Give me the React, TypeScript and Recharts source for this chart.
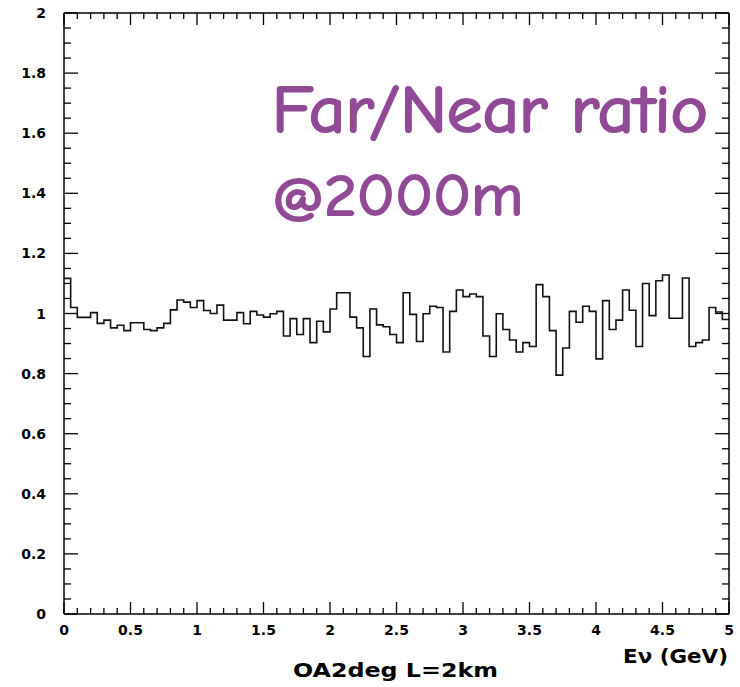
import React from 'react';
import { ComposedChart, Line, XAxis, YAxis } from 'recharts';

// Far/Near flux ratio per 50 MeV energy bin, 0 – 5 GeV (100 bins)
const ratio: number[] = [
  1.117, 1.02, 0.987, 0.987, 1.003, 0.967, 0.978, 0.952, 0.961, 0.943,
  0.969, 0.969, 0.947, 0.943, 0.952, 0.967, 1.012, 1.045, 1.038, 1.02,
  1.043, 1.01, 1.0, 1.028, 0.978, 0.978, 1.003, 0.966, 1.007, 0.995,
  0.988, 0.999, 1.007, 0.925, 0.983, 0.93, 0.983, 0.903, 0.974, 0.939,
  1.015, 1.069, 1.069, 0.988, 0.952, 0.857, 1.015, 0.962, 0.956, 0.93,
  0.903, 1.069, 0.997, 0.907, 0.999, 1.024, 1.02, 0.872, 1.007, 1.078,
  1.056, 1.065, 1.056, 0.925, 0.857, 0.999, 0.947, 0.912, 0.872, 0.903,
  0.89, 1.096, 1.056, 0.943, 0.795, 0.885, 1.007, 0.971, 1.024, 1.007,
  0.849, 1.043, 0.947, 0.978, 1.078, 1.011, 0.89, 1.1, 0.993, 1.109,
  1.128, 0.984, 0.984, 1.118, 0.89, 0.903, 0.912, 1.02, 1.005, 0.98,
];

const E_MIN = 0;
const E_MAX = 5;
const BIN_WIDTH = 0.05;

// x ticks every 0.1 GeV (labelled every 0.5), y ticks every 0.05 (labelled every 0.2)
const xTicks: number[] = Array.from({ length: 51 }, (_, i) => i / 10);
const yTicks: number[] = Array.from({ length: 41 }, (_, i) => i / 20);

// Histogram rows: low edge of each bin, plus the closing edge at E_MAX
const rows = [
  ...ratio.map((r, i) => ({ e: E_MIN + i * BIN_WIDTH, ratio: r })),
  { e: E_MAX, ratio: ratio[ratio.length - 1] },
];

const isMultiple = (v: number, step: number) =>
  Math.abs(v / step - Math.round(v / step)) < 1e-6;
const fmt = (v: number) => String(parseFloat(v.toFixed(1)));

const LABEL_FONT = "'DejaVu Sans', 'Liberation Sans', sans-serif";
const INK = '#000';

const BottomTick = (props: any) => {
  const { x, y, payload } = props;
  const major = isMultiple(payload.value, 0.5);
  return (
    <g>
      <line x1={x} x2={x} y1={y} y2={y - (major ? 12 : 6)} stroke={INK} strokeWidth={1.3} />
      {major && (
        <text x={x} y={y + 21} textAnchor="middle" fontFamily={LABEL_FONT}
          fontWeight="bold" fontSize={14} fill={INK}>
          {fmt(payload.value)}
        </text>
      )}
    </g>
  );
};

const TopTick = (props: any) => {
  const { x, y, payload } = props;
  const major = isMultiple(payload.value, 0.5);
  return <line x1={x} x2={x} y1={y} y2={y + (major ? 12 : 6)} stroke={INK} strokeWidth={1.3} />;
};

const LeftTick = (props: any) => {
  const { x, y, payload } = props;
  const major = isMultiple(payload.value, 0.2);
  return (
    <g>
      <line x1={x} x2={x + (major ? 14 : 7)} y1={y} y2={y} stroke={INK} strokeWidth={1.3} />
      {major && (
        <text x={x - 18} y={y + 5} textAnchor="end" fontFamily={LABEL_FONT}
          fontWeight="bold" fontSize={14} fill={INK}>
          {fmt(payload.value)}
        </text>
      )}
    </g>
  );
};

const RightTick = (props: any) => {
  const { x, y, payload } = props;
  const major = isMultiple(payload.value, 0.2);
  return <line x1={x} x2={x - (major ? 14 : 7)} y1={y} y2={y} stroke={INK} strokeWidth={1.3} />;
};

const axisLine = { stroke: INK, strokeWidth: 1.5 };
const PURPLE = '#914a96';
const HAND_FONT = "'Comic Sans MS', 'Comic Neue', 'Noto Sans', sans-serif";

export default function App() {
  return (
    <div style={{ position: 'absolute', left: 0, top: 0, width: 740, height: 687, background: '#fff' }}>
      <ComposedChart
        width={740}
        height={687}
        data={rows}
        margin={{ top: 12, right: 10, bottom: 0, left: 0 }}
      >
        <XAxis
          dataKey="e"
          type="number"
          domain={[E_MIN, E_MAX]}
          ticks={xTicks}
          interval={0}
          height={73}
          tickSize={0}
          tickMargin={0}
          tickLine={false}
          axisLine={axisLine}
          tick={<BottomTick />}
          allowDataOverflow
        />
        <XAxis
          xAxisId="top"
          dataKey="e"
          orientation="top"
          type="number"
          domain={[E_MIN, E_MAX]}
          ticks={xTicks}
          interval={0}
          height={1}
          tickSize={0}
          tickMargin={0}
          tickLine={false}
          axisLine={axisLine}
          tick={<TopTick />}
          allowDataOverflow
        />
        <YAxis
          type="number"
          domain={[0, 2]}
          ticks={yTicks}
          interval={0}
          width={64}
          tickSize={0}
          tickMargin={0}
          tickLine={false}
          axisLine={axisLine}
          tick={<LeftTick />}
          allowDataOverflow
        />
        <YAxis
          yAxisId="right"
          orientation="right"
          type="number"
          domain={[0, 2]}
          ticks={yTicks}
          interval={0}
          width={1}
          tickSize={0}
          tickMargin={0}
          tickLine={false}
          axisLine={axisLine}
          tick={<RightTick />}
          allowDataOverflow
        />
        {/* frame-only series so the top and right axes share the data scale */}
        <Line
          xAxisId="top"
          yAxisId="right"
          type="stepAfter"
          dataKey="ratio"
          stroke="none"
          dot={false}
          activeDot={false}
          isAnimationActive={false}
        />
        <Line
          type="stepAfter"
          dataKey="ratio"
          stroke="#111"
          strokeWidth={1.6}
          dot={false}
          activeDot={false}
          isAnimationActive={false}
        />
      </ComposedChart>
      <svg
        width={740}
        height={687}
        style={{ position: 'absolute', left: 0, top: 0, pointerEvents: 'none' }}
      >
        <text x={272} y={132} fontFamily={HAND_FONT} fontSize={66} fill={PURPLE}
          stroke={PURPLE} strokeWidth={2.2} strokeLinejoin="round"
          textLength={436} lengthAdjust="spacingAndGlyphs">
          Far/Near ratio
        </text>
        <text x={272} y={215} fontFamily={HAND_FONT} fontSize={58} fill={PURPLE}
          stroke={PURPLE} strokeWidth={2.2} strokeLinejoin="round"
          textLength={251} lengthAdjust="spacingAndGlyphs">
          @2000m
        </text>
        <text x={623} y={663} fontFamily={LABEL_FONT} fontWeight="bold" fontSize={19} fill={INK}
          textLength={105} lengthAdjust="spacingAndGlyphs">
          Eν (GeV)
        </text>
        <text x={293} y={677} fontFamily={LABEL_FONT} fontWeight="bold" fontSize={20} fill={INK}
          textLength={205} lengthAdjust="spacingAndGlyphs">
          OA2deg L=2km
        </text>
      </svg>
    </div>
  );
}
